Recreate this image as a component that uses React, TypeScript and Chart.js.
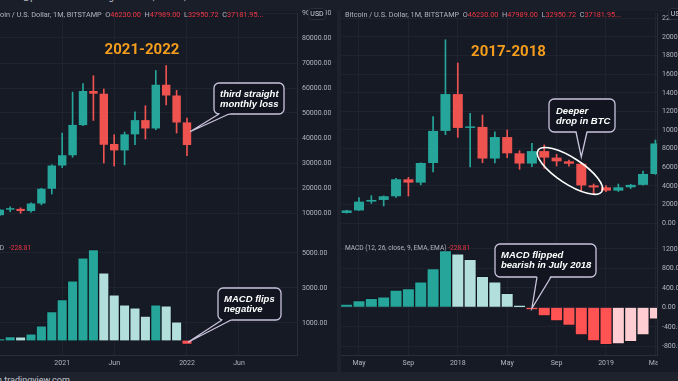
import React, { useEffect, useRef } from 'react';
import { Chart, registerables } from 'chart.js';

Chart.register(...registerables);

// ---------------- data ----------------
// Left panel (2020-07 .. 2022-01), monthly BTC/USD
const LEFT_MONTHS = ['2020-07', '2020-08', '2020-09', '2020-10', '2020-11', '2020-12', '2021-01', '2021-02', '2021-03', '2021-04', '2021-05', '2021-06', '2021-07', '2021-08', '2021-09', '2021-10', '2021-11', '2021-12', '2022-01'];
const LEFT_OPEN = [9135, 11340, 11650, 10780, 13800, 19700, 28990, 33110, 45160, 58800, 57720, 37600, 35040, 41460, 47150, 43820, 61300, 57000, 46230];
const LEFT_HIGH = [11450, 12470, 12070, 14100, 19900, 29300, 41950, 58350, 61800, 64900, 59600, 41300, 42400, 50500, 52900, 67000, 69000, 59050, 47989];
const LEFT_LOW = [8970, 10520, 9880, 10370, 13250, 17600, 28130, 32300, 44950, 47000, 30000, 28800, 29280, 37330, 39600, 43300, 53250, 42000, 32950.72];
const LEFT_CLOSE = [11340, 11650, 10780, 13800, 19700, 28990, 33110, 45240, 58800, 57720, 37300, 35040, 41460, 47150, 43820, 61300, 57000, 46210, 37181.95];
const LEFT_MACD = [114, 229, 210, 381, 838, 1657, 2343, 3410, 4724, 5200, 3867, 2610, 2038, 1867, 1390, 2038, 1981, 1067, -228.81];
const LEFT_TIME_MONTHS = ['2021-01', '2021-06', '2022-01', '2022-06'];
const LEFT_TIME_LABELS = ['2021', 'Jun', '2022', 'Jun'];
const LEFT_PRICE_TICKS = [10000, 20000, 30000, 40000, 50000, 60000, 70000, 80000, 90000];
const LEFT_MACD_TICKS = [1000, 3000, 5000];

// Right panel (2017-04 .. 2019-05)
const RIGHT_MONTHS = ['2017-04', '2017-05', '2017-06', '2017-07', '2017-08', '2017-09', '2017-10', '2017-11', '2017-12', '2018-01', '2018-02', '2018-03', '2018-04', '2018-05', '2018-06', '2018-07', '2018-08', '2018-09', '2018-10', '2018-11', '2018-12', '2019-01', '2019-02', '2019-03', '2019-04', '2019-05'];
const RIGHT_OPEN = [1080, 1350, 2300, 2480, 2875, 4700, 4340, 6450, 9900, 13860, 10220, 10330, 6930, 9240, 7490, 6390, 7730, 7030, 6630, 6370, 4040, 3830, 3480, 3840, 4100, 5270];
const RIGHT_HIGH = [1380, 2720, 2940, 2920, 4800, 4910, 6470, 11430, 19700, 17200, 11780, 11600, 9800, 10000, 7770, 8570, 8390, 7380, 6770, 6520, 4190, 4010, 4190, 4160, 5590, 8920];
const RIGHT_LOW = [1060, 1340, 2100, 1830, 2760, 2900, 4100, 5500, 9500, 9200, 6020, 6480, 6450, 7020, 5770, 6050, 5880, 6130, 6100, 3440, 3150, 3360, 3390, 3700, 4080, 5230];
const RIGHT_CLOSE = [1350, 2300, 2480, 2875, 4700, 4340, 6450, 9900, 13860, 10220, 10330, 6930, 9240, 7490, 6390, 7730, 7030, 6630, 6370, 4040, 3830, 3480, 3840, 4100, 5270, 8550];
const RIGHT_MACD = [68, 136, 183, 217, 352, 386, 521, 792, 1164, 1096, 981, 636, 521, 284, 40, -54, -176, -278, -372, -568, -690, -765, -750, -705, -568, -243];
const RIGHT_TIME_MONTHS = ['2017-05', '2017-09', '2018-01', '2018-05', '2018-09', '2019-01', '2019-05'];
const RIGHT_TIME_LABELS = ['May', 'Sep', '2018', 'May', 'Sep', '2019', 'May'];
const RIGHT_PRICE_TICKS = [0, 2000, 4000, 6000, 8000, 10000, 12000, 14000, 16000, 18000, 20000, 22000];
const RIGHT_MACD_TICKS = [-800, -400, 0, 400, 800, 1200];

const SYMBOL_TEXT = 'Bitcoin / U.S. Dollar, 1M, BITSTAMP';
const MACD_TEXT = 'MACD (12, 26, close, 9, EMA, EMA)';

// ---------------- style ----------------
const BG = '#161a25';
const GRID = '#1f2330';
const SEP = '#2a2e39';
const TEXT = '#b2b5be';
const RED_TEXT = '#f23645';
const UP = '#26a69a';
const DOWN = '#ef5350';
const UP_LIGHT = '#b2dfdb';
const DOWN_STRONG = '#ff5252';
const DOWN_LIGHT = '#ffcdd2';
const TITLE = '#f49d1d';
const CALLOUT_BG = '#12151f';
const CALLOUT_BORDER = '#c9c3dd';
const AXIS_FONT = { family: 'Roboto, "Noto Sans", sans-serif', size: 7 };
const HEADER_FONT = '7.3px Roboto, sans-serif';
const MACD_LABEL_FONT = '6.6px Roboto, sans-serif';
const CALLOUT_FONT = 'italic bold 9.5px "Liberation Sans", Arial, sans-serif';

// ---------------- helpers ----------------
const monthIdx = (base: string, ym: string) => {
  const [by, bm] = base.split('-').map(Number);
  const [y, m] = ym.split('-').map(Number);
  return (y - by) * 12 + (m - bm);
};

const macdColors = (vals: number[]) =>
  vals.map((v, i) => {
    const rising = i === 0 ? true : v >= vals[i - 1];
    if (v >= 0) return rising ? UP : UP_LIGHT;
    return rising ? DOWN_LIGHT : DOWN_STRONG;
  });

type Panel = {
  months: string[]; open: number[]; high: number[]; low: number[]; close: number[]; macd: number[];
  timeMonths: string[]; timeLabels: string[]; priceTicks: number[]; macdTicks: number[];
};

const LEFT: Panel = {
  months: LEFT_MONTHS, open: LEFT_OPEN, high: LEFT_HIGH, low: LEFT_LOW, close: LEFT_CLOSE, macd: LEFT_MACD,
  timeMonths: LEFT_TIME_MONTHS, timeLabels: LEFT_TIME_LABELS, priceTicks: LEFT_PRICE_TICKS, macdTicks: LEFT_MACD_TICKS,
};
const RIGHT: Panel = {
  months: RIGHT_MONTHS, open: RIGHT_OPEN, high: RIGHT_HIGH, low: RIGHT_LOW, close: RIGHT_CLOSE, macd: RIGHT_MACD,
  timeMonths: RIGHT_TIME_MONTHS, timeLabels: RIGHT_TIME_LABELS, priceTicks: RIGHT_PRICE_TICKS, macdTicks: RIGHT_MACD_TICKS,
};

// view windows (layout)
const LEFT_VIEW = { xMin: 0.0192, xMax: 28.577, pMin: 3600, pMax: 90000, mMin: -829, mMax: 6371, axisW: 40 };
const RIGHT_VIEW = { xMin: -0.4575, xMax: 25.13, pMin: -645, pMax: 22575, mMin: -978, mMax: 1605, axisW: 21 };

function xScale(p: Panel, view: any, withLabels: boolean) {
  const pos = p.timeMonths.map((m) => monthIdx(p.months[0], m));
  const lab = new Map(pos.map((v, i) => [v, p.timeLabels[i]]));
  return {
    type: 'linear', min: view.xMin, max: view.xMax, offset: false,
    grid: { color: GRID, drawTicks: false, offset: false, lineWidth: 1 },
    border: { display: true, color: SEP },
    ticks: {
      display: withLabels, color: TEXT, font: AXIS_FONT, padding: 4, autoSkip: false, maxRotation: 0, minRotation: 0,
      callback: (v: number) => lab.get(v) ?? '',
    },
    afterBuildTicks: (s: any) => { s.ticks = pos.map((v) => ({ value: v })); },
    afterFit: (s: any) => { s.height = withLabels ? 17 : 0; s.paddingLeft = 0; s.paddingRight = 0; },
  };
}

function yScale(ticks: number[], min: number, max: number, axisW: number) {
  return {
    type: 'linear', position: 'right', min, max,
    grid: { color: GRID, drawTicks: false },
    border: { display: true, color: SEP },
    ticks: { color: TEXT, font: AXIS_FONT, padding: 5, callback: (v: number) => Number(v).toFixed(2) },
    afterBuildTicks: (s: any) => { s.ticks = ticks.map((v) => ({ value: v })); },
    afterFit: (s: any) => { s.width = axisW; s.paddingTop = 0; s.paddingBottom = 0; },
  };
}

function baseOptions(padTop: number) {
  return {
    responsive: false, maintainAspectRatio: false, animation: false, devicePixelRatio: 1, events: [],
    layout: { padding: { top: padTop, left: 0, right: 0, bottom: 0 } },
    plugins: { legend: { display: false }, tooltip: { enabled: false } },
  };
}

function overlay(id: string, draw: (chart: any, ctx: CanvasRenderingContext2D) => void) {
  return {
    id,
    afterDraw(chart: any) {
      const ctx = chart.ctx as CanvasRenderingContext2D;
      ctx.save();
      draw(chart, ctx);
      ctx.restore();
    },
  };
}

function drawRuns(ctx: CanvasRenderingContext2D, x: number, y: number, runs: [string, string][]) {
  let cx = x;
  ctx.textAlign = 'left';
  ctx.textBaseline = 'middle';
  for (const [t, c] of runs) {
    ctx.fillStyle = c;
    ctx.fillText(t, cx, y);
    cx += ctx.measureText(t).width;
  }
}

function headerRuns(p: Panel): [string, string][] {
  const n = p.open.length - 1;
  return [
    [SYMBOL_TEXT + '  O', TEXT], [p.open[n].toFixed(2), RED_TEXT],
    ['  H', TEXT], [p.high[n].toFixed(2), RED_TEXT],
    ['  L', TEXT], [p.low[n].toFixed(2), RED_TEXT],
    ['  C', TEXT], [p.close[n].toFixed(2) + '...', RED_TEXT],
  ];
}

function drawCallout(ctx: CanvasRenderingContext2D, o: {
  box: [number, number, number, number]; b1: [number, number]; b2: [number, number]; apex: [number, number];
  lines: string[]; tx: number; ty: number; lh: number;
}) {
  const [x, y, w, h] = o.box;
  const cx = x + w / 2, cy = y + h / 2;
  const mx = (o.b1[0] + o.b2[0]) / 2, my = (o.b1[1] + o.b2[1]) / 2;
  const dl = Math.hypot(cx - mx, cy - my) || 1;
  const ix = ((cx - mx) / dl) * 2.5, iy = ((cy - my) / dl) * 2.5;
  ctx.lineWidth = 1.3;
  ctx.strokeStyle = CALLOUT_BORDER;
  ctx.fillStyle = CALLOUT_BG;
  ctx.beginPath();
  (ctx as any).roundRect(x, y, w, h, 5);
  ctx.fill();
  ctx.stroke();
  ctx.beginPath();
  ctx.moveTo(o.b1[0] + ix, o.b1[1] + iy);
  ctx.lineTo(o.apex[0], o.apex[1]);
  ctx.lineTo(o.b2[0] + ix, o.b2[1] + iy);
  ctx.closePath();
  ctx.fill();
  ctx.beginPath();
  ctx.moveTo(o.b1[0], o.b1[1]);
  ctx.lineTo(o.apex[0], o.apex[1]);
  ctx.lineTo(o.b2[0], o.b2[1]);
  ctx.stroke();
  ctx.fillStyle = '#ffffff';
  ctx.font = CALLOUT_FONT;
  ctx.textAlign = 'left';
  ctx.textBaseline = 'middle';
  o.lines.forEach((l, i) => ctx.fillText(l, o.tx, o.ty + i * o.lh));
}

function drawBadge(ctx: CanvasRenderingContext2D, x: number, y: number, w: number, h: number) {
  ctx.fillStyle = '#131722';
  ctx.strokeStyle = SEP;
  ctx.lineWidth = 1;
  ctx.beginPath();
  (ctx as any).roundRect(x + 0.5, y + 0.5, w, h, 3);
  ctx.fill();
  ctx.stroke();
  ctx.fillStyle = '#d1d4dc';
  ctx.font = '7px Roboto, sans-serif';
  ctx.textAlign = 'center';
  ctx.textBaseline = 'middle';
  ctx.fillText('USD', x + w / 2 + 0.5, y + h / 2 + 0.5);
}

function drawTitle(ctx: CanvasRenderingContext2D, text: string, x: number, y: number) {
  ctx.fillStyle = TITLE;
  ctx.font = 'bold 15px Roboto, sans-serif';
  ctx.textAlign = 'center';
  ctx.textBaseline = 'middle';
  ctx.fillText(text, x, y);
}

function candleDatasets(p: Panel) {
  const col = p.open.map((o, i) => (p.close[i] >= o ? UP : DOWN));
  return [
    {
      type: 'bar', data: p.months.map((_, i) => ({ x: i, y: [p.open[i], p.close[i]] })),
      backgroundColor: col, borderWidth: 0, grouped: false, barPercentage: 0.9, categoryPercentage: 0.9,
      minBarLength: 1.5, order: 0, clip: 0,
    },
    {
      type: 'bar', data: p.months.map((_, i) => ({ x: i, y: [p.low[i], p.high[i]] })),
      backgroundColor: col, borderWidth: 0, grouped: false, barThickness: 1, order: 1, clip: 0,
    },
  ];
}

function macdDataset(p: Panel) {
  return [{
    type: 'bar', data: p.months.map((_, i) => ({ x: i, y: p.macd[i] })),
    backgroundColor: macdColors(p.macd), borderColor: 'rgba(14,18,28,0.55)', borderWidth: 1,
    barPercentage: 1, categoryPercentage: 1, grouped: false, clip: 0,
  }];
}

// ---------------- chart factories ----------------
const LEFT_X = 0, RIGHT_X = 341, PANEL_W = 337, PRICE_H = 229, MACD_TOP = 229, MACD_H = 143;

const makeLeftPrice = () => ({
  type: 'bar',
  data: { datasets: candleDatasets(LEFT) },
  options: {
    ...baseOptions(13),
    scales: { x: xScale(LEFT, LEFT_VIEW, false), y: yScale(LEFT.priceTicks, LEFT_VIEW.pMin, LEFT_VIEW.pMax, LEFT_VIEW.axisW) },
  },
  plugins: [overlay('leftPrice', (chart, ctx) => {
    const xs = chart.scales.x, ys = chart.scales.y;
    ctx.font = HEADER_FONT;
    const start = -ctx.measureText('Bitc').width;
    drawRuns(ctx, start, 15, headerRuns(LEFT));
    drawTitle(ctx, '2021-2022', 142, 50);
    const last = LEFT.months.length - 1;
    drawCallout(ctx, {
      box: [214, 83, 70, 31], b1: [219, 114], b2: [229, 114],
      apex: [xs.getPixelForValue(last) + 3, ys.getPixelForValue(42500)],
      lines: ['third straight', 'monthly loss'], tx: 220, ty: 94, lh: 10,
    });
    drawBadge(ctx, 308, 8, 17, 11);
  })],
});

const makeLeftMacd = () => ({
  type: 'bar',
  data: { datasets: macdDataset(LEFT) },
  options: {
    ...baseOptions(0),
    scales: { x: xScale(LEFT, LEFT_VIEW, true), y: yScale(LEFT.macdTicks, LEFT_VIEW.mMin, LEFT_VIEW.mMax, LEFT_VIEW.axisW) },
  },
  plugins: [overlay('leftMacd', (chart, ctx) => {
    const xs = chart.scales.x, ys = chart.scales.y;
    ctx.font = MACD_LABEL_FONT;
    ctx.textBaseline = 'middle';
    ctx.textAlign = 'right';
    ctx.fillStyle = TEXT;
    ctx.fillText('MACD', 4, 19);
    ctx.textAlign = 'left';
    ctx.fillStyle = RED_TEXT;
    ctx.fillText(LEFT.macd[LEFT.macd.length - 1].toFixed(2), 9, 19);
    const last = LEFT.months.length - 1;
    drawCallout(ctx, {
      box: [218, 288 - MACD_TOP, 63, 32], b1: [222, 320 - MACD_TOP], b2: [231, 320 - MACD_TOP],
      apex: [xs.getPixelForValue(last) + 1, ys.getPixelForValue(-100)],
      lines: ['MACD flips', 'negative'], tx: 224, ty: 299 - MACD_TOP, lh: 10,
    });
  })],
});

const makeRightPrice = () => ({
  type: 'bar',
  data: { datasets: candleDatasets(RIGHT) },
  options: {
    ...baseOptions(13),
    scales: { x: xScale(RIGHT, RIGHT_VIEW, false), y: yScale(RIGHT.priceTicks, RIGHT_VIEW.pMin, RIGHT_VIEW.pMax, RIGHT_VIEW.axisW) },
  },
  plugins: [overlay('rightPrice', (chart, ctx) => {
    const xs = chart.scales.x, ys = chart.scales.y;
    ctx.font = HEADER_FONT;
    drawRuns(ctx, 4, 15, headerRuns(LEFT));
    drawTitle(ctx, '2017-2018', 508.5 - RIGHT_X, 52);
    // ellipse around the 2018 slide
    const ex = xs.getPixelForValue(monthIdx(RIGHT.months[0], '2018-10'));
    const ey = ys.getPixelForValue(5600);
    ctx.strokeStyle = '#ffffff';
    ctx.lineWidth = 1.6;
    ctx.beginPath();
    ctx.ellipse(ex + 1, ey, 38, 13, (33 * Math.PI) / 180, 0, Math.PI * 2);
    ctx.stroke();
    drawCallout(ctx, {
      box: [549 - RIGHT_X, 99, 66, 33], b1: [576 - RIGHT_X, 132], b2: [587 - RIGHT_X, 132],
      apex: [xs.getPixelForValue(monthIdx(RIGHT.months[0], '2018-11')), ys.getPixelForValue(7100)],
      lines: ['Deeper', 'drop in BTC'], tx: 556 - RIGHT_X, ty: 111, lh: 10,
    });
    drawBadge(ctx, 668 - RIGHT_X, 8, 18, 11);
  })],
});

const makeRightMacd = () => ({
  type: 'bar',
  data: { datasets: macdDataset(RIGHT) },
  options: {
    ...baseOptions(0),
    scales: { x: xScale(RIGHT, RIGHT_VIEW, true), y: yScale(RIGHT.macdTicks, RIGHT_VIEW.mMin, RIGHT_VIEW.mMax, RIGHT_VIEW.axisW) },
  },
  plugins: [overlay('rightMacd', (chart, ctx) => {
    const xs = chart.scales.x, ys = chart.scales.y;
    const area = chart.chartArea;
    // blank the corner under the price scale
    ctx.fillStyle = BG;
    ctx.fillRect(area.right + 0.5, area.bottom + 1, 40, 16);
    ctx.font = MACD_LABEL_FONT;
    drawRuns(ctx, 4, 19, [[MACD_TEXT + ' ', TEXT], [LEFT.macd[LEFT.macd.length - 1].toFixed(2), RED_TEXT]]);
    drawCallout(ctx, {
      box: [495 - RIGHT_X, 244 - MACD_TOP, 101, 33], b1: [537 - RIGHT_X, 277 - MACD_TOP], b2: [551 - RIGHT_X, 277 - MACD_TOP],
      apex: [xs.getPixelForValue(monthIdx(RIGHT.months[0], '2018-07')), ys.getPixelForValue(-20)],
      lines: ['MACD flipped', 'bearish in July 2018'], tx: 501 - RIGHT_X, ty: 255 - MACD_TOP, lh: 10.5,
    });
  })],
});

function ChartBox({ x, y, w, h, make }: { x: number; y: number; w: number; h: number; make: () => any }) {
  const ref = useRef<HTMLCanvasElement | null>(null);
  useEffect(() => {
    const chart = new Chart(ref.current as HTMLCanvasElement, make());
    return () => chart.destroy();
  }, [make]);
  return (
    <canvas ref={ref} width={w} height={h}
      style={{ position: 'absolute', left: x, top: y, width: w, height: h, display: 'block' }} />
  );
}

export default function App() {
  return (
    <div style={{ position: 'fixed', left: 0, top: 0, width: 678, height: 381, background: BG, overflow: 'hidden', fontFamily: 'Roboto, sans-serif' }}>
      <div style={{ position: 'absolute', left: 0, top: 0, width: 678, height: 11, background: '#1a1e29', overflow: 'hidden' }}>
        <div style={{ position: 'absolute', left: -14, top: -8, fontSize: 9, color: '#c3c6ce', whiteSpace: 'nowrap' }}>
          CoinDesk_ published on TradingView.com, Jan 07, 2022 07:37 UTC
        </div>
      </div>
      <div style={{ position: 'absolute', left: 337, top: 11, width: 4, height: 361, background: '#1e222d' }} />
      <div style={{ position: 'absolute', left: 0, top: 372, width: 678, height: 9, background: '#1e222d', overflow: 'hidden' }}>
        <div style={{ position: 'absolute', left: -3, top: 3, fontSize: 9, color: '#c3c6ce', whiteSpace: 'nowrap' }}>
          n tradingview.com
        </div>
      </div>
      <ChartBox x={LEFT_X} y={0} w={PANEL_W} h={PRICE_H} make={makeLeftPrice} />
      <ChartBox x={LEFT_X} y={MACD_TOP} w={PANEL_W} h={MACD_H} make={makeLeftMacd} />
      <ChartBox x={RIGHT_X} y={0} w={PANEL_W} h={PRICE_H} make={makeRightPrice} />
      <ChartBox x={RIGHT_X} y={MACD_TOP} w={PANEL_W} h={MACD_H} make={makeRightMacd} />
    </div>
  );
}
